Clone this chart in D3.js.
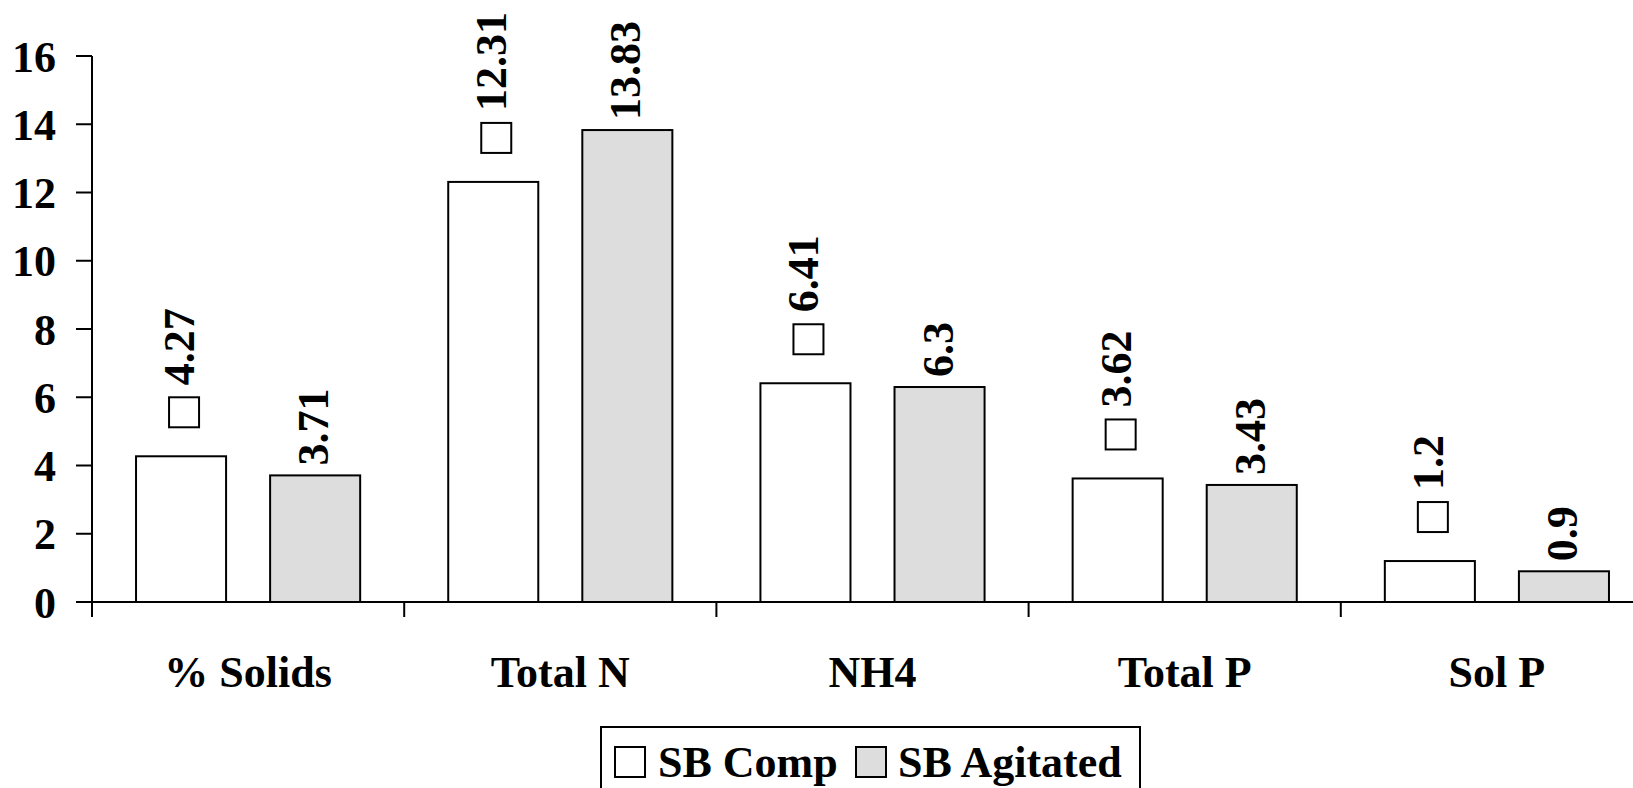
<!DOCTYPE html>
<html>
<head>
<meta charset="utf-8">
<script src="https://cdn.jsdelivr.net/npm/d3@7/dist/d3.min.js"></script>
<style>
  html, body { margin: 0; padding: 0; background: #fff; }
  svg { display: block; }
  text { font-family: "Liberation Serif", "Times New Roman", serif; font-weight: bold; fill: #000; }
</style>
</head>
<body>
<svg id="chart" width="1633" height="788"></svg>
<script>
const categories = ["% Solids", "Total N", "NH4", "Total P", "Sol P"];
const seriesNames = ["SB Comp", "SB Agitated"];
const sbComp = [4.27, 12.31, 6.41, 3.62, 1.2];
const sbAgitated = [3.71, 13.83, 6.3, 3.43, 0.9];
const yTicks = [0, 2, 4, 6, 8, 10, 12, 14, 16];
const seriesFill = ["#ffffff", "#dddddd"];

const svg = d3.select("#chart");
const FONT = 44;

const x0 = d3.scaleBand().domain(categories).range([92, 92 + 5 * 312.2]).paddingInner(0).paddingOuter(0);
const x1 = d3.scaleBand().domain(seriesNames).range([0, x0.bandwidth()]).paddingInner(0.3284).paddingOuter(0.3284);
const y = d3.scaleLinear().domain([0, 16]).range([602, 56]);

const values = [sbComp, sbAgitated];

// Y axis
const yAxisG = svg.append("g");
yAxisG.append("line").attr("x1", 92).attr("x2", 92).attr("y1", y(16)).attr("y2", y(0) + 15)
  .attr("stroke", "#000").attr("stroke-width", 2);
yAxisG.selectAll("line.tick").data(yTicks).enter().append("line")
  .attr("class", "tick")
  .attr("x1", 76).attr("x2", 92).attr("y1", d => y(d)).attr("y2", d => y(d))
  .attr("stroke", "#000").attr("stroke-width", 2);
yAxisG.selectAll("text").data(yTicks).enter().append("text")
  .attr("x", 56).attr("y", d => y(d) + 15.5)
  .attr("text-anchor", "end").attr("font-size", FONT)
  .text(d => d);

// Bars
categories.forEach((c, i) => {
  seriesNames.forEach((s, j) => {
    const v = values[j][i];
    const bx = x0(c) + x1(s);
    const bw = x1.bandwidth();
    svg.append("rect")
      .attr("x", bx).attr("y", y(v))
      .attr("width", bw).attr("height", y(0) - y(v))
      .attr("fill", seriesFill[j]).attr("stroke", "#000").attr("stroke-width", 2);
    const cx = bx + bw / 2;
    let textStart;
    if (j === 0) {
      // legend key box in label
      const boxBottom = y(v) - 29;
      svg.append("rect")
        .attr("x", cx - 12).attr("y", boxBottom - 30)
        .attr("width", 30).attr("height", 30)
        .attr("fill", "#fff").attr("stroke", "#000").attr("stroke-width", 2);
      textStart = boxBottom - 30 - 12;
    } else {
      textStart = y(v) - 10;
    }
    svg.append("text")
      .attr("transform", `translate(${cx + 13},${textStart}) rotate(-90)`)
      .attr("font-size", FONT)
      .attr("text-anchor", "start")
      .text(d3.format("")(v));
  });
});

// X axis
const xAxisG = svg.append("g");
xAxisG.append("line").attr("x1", 76).attr("x2", 1633).attr("y1", y(0)).attr("y2", y(0))
  .attr("stroke", "#000").attr("stroke-width", 2);
xAxisG.selectAll("line.tick").data(categories).enter().append("line")
  .attr("class", "tick")
  .attr("x1", d => x0(d)).attr("x2", d => x0(d))
  .attr("y1", y(0)).attr("y2", y(0) + 15)
  .attr("stroke", "#000").attr("stroke-width", 2);
xAxisG.selectAll("text").data(categories).enter().append("text")
  .attr("x", d => x0(d) + x0.bandwidth() / 2).attr("y", 687)
  .attr("text-anchor", "middle").attr("font-size", FONT)
  .text(d => d);

// Legend
const lg = svg.append("g");
lg.append("rect").attr("x", 601).attr("y", 727).attr("width", 539).attr("height", 100)
  .attr("fill", "#fff").attr("stroke", "#000").attr("stroke-width", 2);
const legendPos = [{kx: 615, tx: 658}, {kx: 856, tx: 898}];
seriesNames.forEach((s, j) => {
  lg.append("rect").attr("x", legendPos[j].kx).attr("y", 747).attr("width", 30).attr("height", 30)
    .attr("fill", seriesFill[j]).attr("stroke", "#000").attr("stroke-width", 2);
  lg.append("text").attr("x", legendPos[j].tx).attr("y", 777).attr("font-size", FONT).text(s);
});
</script>
</body>
</html>
